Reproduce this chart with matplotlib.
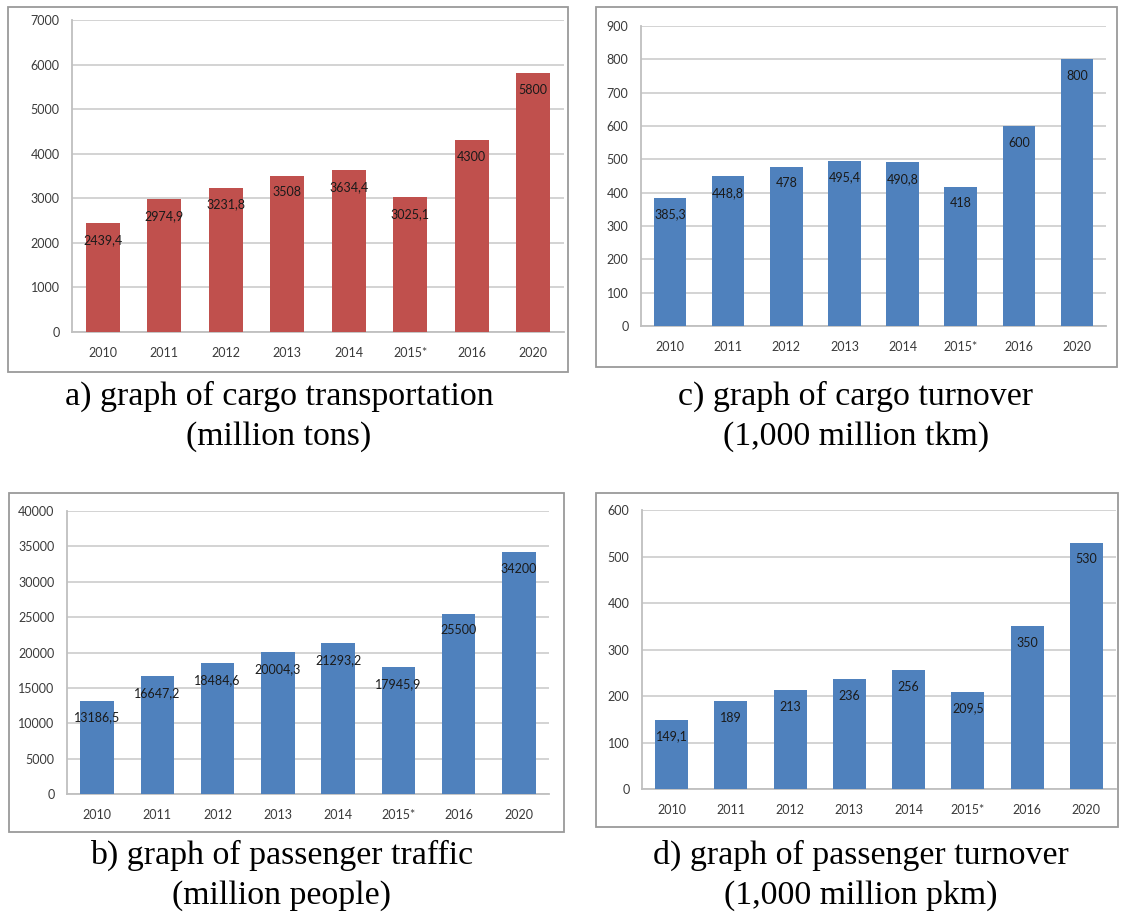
import matplotlib
matplotlib.use("Agg")
import matplotlib.pyplot as plt
from matplotlib.patches import Rectangle

years = ["2010", "2011", "2012", "2013", "2014", "2015*", "2016", "2020"]
cargo_transport = [2439.4, 2974.9, 3231.8, 3508, 3634.4, 3025.1, 4300, 5800]
cargo_turnover = [385.3, 448.8, 478, 495.4, 490.8, 418, 600, 800]
passenger_traffic = [13186.5, 16647.2, 18484.6, 20004.3, 21293.2, 17945.9, 25500, 34200]
passenger_turnover = [149.1, 189, 213, 236, 256, 209.5, 350, 530]

RED = "#C0504D"
BLUE = "#4F81BD"
W, H = 1122, 913

plt.rcParams["font.family"] = ["Lato", "DejaVu Sans"]


def fmt(v):
    if float(v).is_integer():
        return str(int(v))
    return f"{v:.1f}".replace(".", ",")


def px_box(x0, y0, x1, y1):
    # pixel coords (top-left origin) -> figure fraction [l, b, w, h]
    return [x0 / W, 1 - y1 / H, (x1 - x0) / W, (y1 - y0) / H]


def panel(fig, frame, plot_area, values, color, ymax, step, captions, cx, base_y):
    fx0, fy0, fx1, fy1 = frame
    fig.patches.append(Rectangle((fx0 / W, 1 - fy1 / H), (fx1 - fx0) / W, (fy1 - fy0) / H,
                                 transform=fig.transFigure, fill=False,
                                 edgecolor="#9a9a9a", linewidth=1.3))
    ax = fig.add_axes(px_box(*plot_area))
    x = list(range(len(years)))
    ax.bar(x, values, width=0.56, color=color, zorder=3)
    ax.set_xlim(-0.5, len(years) - 0.5)
    ax.set_ylim(0, ymax)
    ax.set_yticks(range(0, ymax + 1, step))
    ax.set_xticks(x)
    ax.set_xticklabels(years)
    ax.tick_params(length=0, labelsize=9, labelcolor="#3a3a3a")
    ax.tick_params(axis="x", pad=11)
    ax.tick_params(axis="y", pad=9)
    ax.grid(True, axis="y", color="#d0d0d0", linewidth=1.3, zorder=0)
    for s in ("top", "right"):
        ax.spines[s].set_visible(False)
    for s in ("left", "bottom"):
        ax.spines[s].set_color("#bfbfbf")
        ax.spines[s].set_linewidth(1.3)
    for xi, v in zip(x, values):
        ax.annotate(fmt(v), (xi, v), xytext=(0, -12), textcoords="offset points",
                    ha="center", va="center", fontsize=9, color="#1a1a1a", zorder=4)
    for i, line in enumerate(captions):
        fig.text(cx / W, 1 - (base_y + 40 * i) / H, line, ha="center", va="baseline",
                 family="Liberation Serif", fontsize=24.4, color="black")
    return ax


fig = plt.figure(figsize=(W / 100, H / 100), dpi=100)

panel(fig, (8, 7, 568, 372), (72, 20, 564, 332), cargo_transport, RED, 7000, 1000,
      ["a) graph of cargo transportation", "(million tons)"], 279, 405)
panel(fig, (596, 7, 1117, 367), (641, 26, 1106, 326), cargo_turnover, BLUE, 900, 100,
      ["c) graph of cargo turnover", "(1,000 million tkm)"], 856, 405)
panel(fig, (9, 493, 564, 832), (67, 511, 549, 794), passenger_traffic, BLUE, 40000, 5000,
      ["b) graph of passenger traffic", "(million people)"], 282, 864)
panel(fig, (596, 493, 1118, 827), (642, 510, 1116, 789), passenger_turnover, BLUE, 600, 100,
      ["d) graph of passenger turnover", "(1,000 million pkm)"], 861, 864)

fig.savefig("out.png", dpi=100)
plt.close(fig)
